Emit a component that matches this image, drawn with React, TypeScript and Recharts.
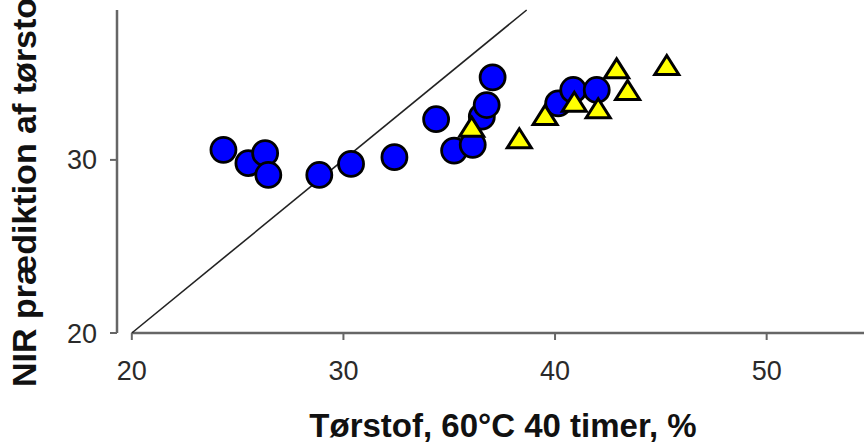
import { ScatterChart, Scatter, XAxis, YAxis, ReferenceLine, Label } from "recharts";

// blue circles
const circleX = [24.33, 25.51, 26.3, 26.45, 28.86, 30.36, 32.41, 34.38, 35.23, 36.11, 36.54, 36.77, 37.05, 40.15, 40.86, 41.97];
const circleY = [30.58, 29.81, 30.39, 29.13, 29.13, 29.77, 30.16, 32.35, 30.54, 30.87, 32.5, 33.17, 34.77, 33.27, 34.04, 34.04];

// yellow triangles
const triX = [36.06, 38.31, 39.53, 40.91, 42.04, 42.91, 43.43, 45.28];
const triY = [31.92, 31.25, 32.6, 33.36, 32.98, 35.29, 34.04, 35.48];

const xTicks = [20, 30, 40, 50];
const yTicks = [20, 30];

const X_MIN = 19.3;
const X_MAX = 54.6;
const Y_MIN = 20;
const Y_MAX = 38.66;

const blueData = circleX.map((x, i) => ({ x, y: circleY[i] }));
const yellowData = triX.map((x, i) => ({ x, y: triY[i] }));

const FONT = "'Liberation Sans', Arial, sans-serif";
const AXIS = "#666";

function CircleDot(props: any) {
  const { cx, cy } = props;
  if (cx == null || cy == null) return null;
  return <circle cx={cx} cy={cy} r={12.5} fill="#0000FF" stroke="#000" strokeWidth={2.8} />;
}

function TriangleDot(props: any) {
  const { cx, cy } = props;
  if (cx == null || cy == null) return null;
  const w = 24;
  const h = 19;
  const d = `M${cx},${cy - h / 2} L${cx + w / 2},${cy + h / 2} L${cx - w / 2},${cy + h / 2} Z`;
  return <path d={d} fill="#FFFF00" stroke="#000" strokeWidth={3} strokeLinejoin="miter" />;
}

const renderXLabel = () => (
  <text x={503} y={437} textAnchor="middle" fontSize={33} fontWeight="bold" fill="#111" fontFamily={FONT}>
    Tørstof, 60°C 40 timer, %
  </text>
);

const renderYLabel = () => (
  <text
    x={36}
    y={387}
    transform="rotate(-90, 36, 387)"
    textAnchor="start"
    fontSize={34}
    fontWeight="bold"
    fill="#111"
    fontFamily={FONT}
  >
    NIR prædiktion af tørstof, %
  </text>
);

export default function App() {
  return (
    <div style={{ position: "absolute", left: 0, top: 0, width: 864, height: 446, background: "#fff", fontFamily: FONT }}>
      <ScatterChart width={864} height={446} margin={{ top: 10, right: 0, bottom: 0, left: 0 }}>
        <XAxis
          type="number"
          dataKey="x"
          domain={[X_MIN, X_MAX]}
          ticks={xTicks}
          interval={0}
          allowDataOverflow
          axisLine={false}
          tickLine={{ stroke: AXIS, strokeWidth: 2 }}
          tickSize={7}
          tickMargin={21}
          height={113}
          tick={{ fill: "#2a2a2a", fontSize: 27, fontFamily: FONT }}
        >
          <Label content={renderXLabel} />
        </XAxis>
        <YAxis
          type="number"
          dataKey="y"
          domain={[Y_MIN, Y_MAX]}
          ticks={yTicks}
          interval={0}
          allowDataOverflow
          width={117}
          axisLine={{ stroke: AXIS, strokeWidth: 2.5 }}
          tickLine={{ stroke: AXIS, strokeWidth: 2 }}
          tickSize={7}
          tickMargin={13}
          tick={{ fill: "#2a2a2a", fontSize: 27, fontFamily: FONT }}
        >
          <Label content={renderYLabel} />
        </YAxis>
        <ReferenceLine
          segment={[{ x: 20, y: Y_MIN }, { x: X_MAX, y: Y_MIN }]}
          stroke={AXIS}
          strokeWidth={2.5}
          ifOverflow="visible"
        />
        <Scatter data={blueData} shape={CircleDot} isAnimationActive={false} />
        <ReferenceLine
          segment={[{ x: 20, y: 20 }, { x: Y_MAX, y: Y_MAX }]}
          stroke="#222"
          strokeWidth={1.6}
          ifOverflow="visible"
        />
        <Scatter data={yellowData} shape={TriangleDot} isAnimationActive={false} />
      </ScatterChart>
    </div>
  );
}
